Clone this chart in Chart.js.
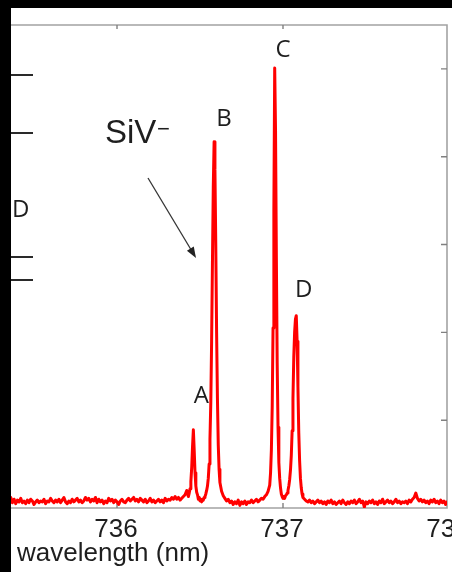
<!DOCTYPE html>
<html>
<head>
<meta charset="utf-8">
<script src="https://cdn.jsdelivr.net/npm/chart.js@4.4.1/dist/chart.umd.min.js"></script>
<style>
html, body { margin: 0; padding: 0; background: #000; }
#spectrum { display: block; }
</style>
</head>
<body>
<canvas id="spectrum" width="452" height="572"></canvas>
<script>
// wavelength (nm) of each sample, finer steps around the four lines
var wavelength = [
	735.36, 735.37, 735.38, 735.39, 735.40, 735.41, 735.42, 735.43, 735.44, 735.45,
	735.46, 735.47, 735.48, 735.49, 735.50, 735.51, 735.52, 735.53, 735.54, 735.55,
	735.56, 735.57, 735.58, 735.59, 735.60, 735.61, 735.62, 735.63, 735.64, 735.65,
	735.66, 735.67, 735.68, 735.69, 735.70, 735.71, 735.72, 735.73, 735.74, 735.75,
	735.76, 735.77, 735.78, 735.79, 735.80, 735.81, 735.82, 735.83, 735.84, 735.85,
	735.86, 735.87, 735.88, 735.89, 735.90, 735.91, 735.92, 735.93, 735.94, 735.95,
	735.96, 735.97, 735.98, 735.99, 736.00, 736.01, 736.02, 736.03, 736.04, 736.05,
	736.06, 736.07, 736.08, 736.09, 736.10, 736.11, 736.12, 736.13, 736.14, 736.15,
	736.16, 736.17, 736.18, 736.19, 736.20, 736.21, 736.22, 736.23, 736.24, 736.25,
	736.26, 736.27, 736.28, 736.29, 736.30, 736.31, 736.32, 736.33, 736.34, 736.35,
	736.36, 736.37, 736.38, 736.39, 736.40, 736.41, 736.42,
	736.430, 736.435, 736.440, 736.445, 736.450, 736.455, 736.460, 736.465, 736.470, 736.475,
	736.480, 736.485, 736.490, 736.495, 736.500, 736.505, 736.510, 736.515, 736.520, 736.525,
	736.530, 736.535, 736.540, 736.545, 736.550, 736.555, 736.560, 736.565, 736.570, 736.575,
	736.580, 736.585, 736.590, 736.595, 736.600, 736.605, 736.610, 736.615, 736.620,
	736.63, 736.64, 736.65, 736.66, 736.67, 736.68, 736.69, 736.70, 736.71, 736.72,
	736.73, 736.74, 736.75, 736.76, 736.77, 736.78, 736.79, 736.80, 736.81, 736.82,
	736.83, 736.84, 736.85, 736.86, 736.87, 736.88, 736.89, 736.90, 736.91,
	736.920, 736.925, 736.930, 736.935, 736.940, 736.945, 736.950, 736.955, 736.960, 736.965,
	736.970, 736.975, 736.980, 736.985, 736.990, 736.995, 737.000, 737.005, 737.010, 737.015,
	737.020, 737.025, 737.030, 737.035, 737.040, 737.045, 737.050, 737.055, 737.060, 737.065,
	737.070, 737.075, 737.080, 737.085, 737.090, 737.095, 737.100, 737.105, 737.110, 737.115,
	737.120,
	737.13, 737.14, 737.15, 737.16, 737.17, 737.18, 737.19, 737.20, 737.21, 737.22,
	737.23, 737.24, 737.25, 737.26, 737.27, 737.28, 737.29, 737.30, 737.31, 737.32,
	737.33, 737.34, 737.35, 737.36, 737.37, 737.38, 737.39, 737.40, 737.41, 737.42,
	737.43, 737.44, 737.45, 737.46, 737.47, 737.48, 737.49, 737.50, 737.51, 737.52,
	737.53, 737.54, 737.55, 737.56, 737.57, 737.58, 737.59, 737.60, 737.61, 737.62,
	737.63, 737.64, 737.65, 737.66, 737.67, 737.68, 737.69, 737.70, 737.71, 737.72,
	737.73, 737.74, 737.75, 737.76, 737.77, 737.78, 737.79, 737.80, 737.81, 737.82,
	737.83, 737.84, 737.85, 737.86, 737.87, 737.88, 737.89, 737.90, 737.91, 737.92,
	737.93, 737.94, 737.95, 737.96, 737.97, 737.98, 737.99
];

// PL intensity (arb. units, one unit per right-hand tick)
var intensity = [
	0.12, 0.06, 0.10, 0.05, 0.09, 0.07, 0.11, 0.06, 0.08, 0.05,
	0.09, 0.06, 0.10, 0.08, 0.04, 0.07, 0.09, 0.06, 0.08, 0.07,
	0.10, 0.05, 0.08, 0.07, 0.11, 0.08, 0.06, 0.09, 0.07, 0.10,
	0.06, 0.09, 0.12, 0.07, 0.05, 0.08, 0.06, 0.10, 0.07, 0.09,
	0.11, 0.07, 0.09, 0.06, 0.08, 0.12, 0.09, 0.11, 0.07, 0.10,
	0.08, 0.12, 0.06, 0.10, 0.07, 0.09, 0.05, 0.08, 0.06, 0.11,
	0.08, 0.10, 0.06, 0.09, 0.07, 0.04, 0.08, 0.10, 0.07, 0.06,
	0.09, 0.11, 0.08, 0.10, 0.12, 0.08, 0.10, 0.07, 0.11, 0.09,
	0.07, 0.10, 0.06, 0.08, 0.11, 0.07, 0.09, 0.06, 0.08, 0.10,
	0.07, 0.09, 0.06, 0.11, 0.08, 0.10, 0.09, 0.12, 0.10, 0.13,
	0.10, 0.12, 0.09, 0.11, 0.13, 0.15, 0.20,
	0.13, 0.17, 0.22, 0.30, 0.46, 0.70, 0.89, 0.66, 0.40, 0.25,
	0.18, 0.15, 0.10, 0.12, 0.08, 0.10, 0.07, 0.10, 0.09, 0.12,
	0.13, 0.16, 0.20, 0.25, 0.34, 0.50, 0.78, 1.20, 1.90, 2.80,
	3.65, 4.17, 3.85, 3.00, 2.00, 1.25, 0.72, 0.44, 0.29,
	0.19, 0.14, 0.11, 0.08, 0.10, 0.06, 0.08, 0.04, 0.07, 0.05,
	0.09, 0.03, 0.07, 0.05, 0.08, 0.04, 0.07, 0.06, 0.09, 0.06,
	0.08, 0.10, 0.07, 0.09, 0.11, 0.10, 0.13, 0.15, 0.19,
	0.26, 0.40, 0.66, 1.15, 2.05, 3.40, 5.01, 4.30, 2.85, 1.65,
	0.92, 0.52, 0.34, 0.23, 0.16, 0.13, 0.11, 0.13, 0.11, 0.14,
	0.15, 0.17, 0.20, 0.25, 0.32, 0.43, 0.60, 0.88, 1.25, 1.72,
	2.00, 2.15, 2.19, 1.90, 1.38, 0.86, 0.54, 0.34, 0.23, 0.16,
	0.12,
	0.10, 0.08, 0.07, 0.09, 0.06, 0.08, 0.05, 0.07, 0.09, 0.06,
	0.08, 0.05, 0.07, 0.04, 0.08, 0.06, 0.09, 0.05, 0.07, 0.04,
	0.06, 0.08, 0.05, 0.09, 0.06, 0.04, 0.07, 0.05, 0.08, 0.06,
	0.09, 0.05, 0.07, 0.10, 0.06, 0.08, 0.01, 0.07, 0.05, 0.08,
	0.06, 0.09, 0.05, 0.07, 0.04, 0.08, 0.06, 0.10, 0.05, 0.07,
	0.09, 0.06, 0.08, 0.05, 0.07, 0.10, 0.06, 0.08, 0.05, 0.07,
	0.06, 0.08, 0.05, 0.09, 0.07, 0.10, 0.12, 0.17, 0.11, 0.08,
	0.10, 0.07, 0.09, 0.06, 0.08, 0.05, 0.09, 0.07, 0.10, 0.06,
	0.08, 0.05, 0.09, 0.06, 0.08, 0.04, 0.07
];

var x_ticks = [736, 737, 738];
var y_ticks = [1, 2, 3, 4, 5];
var peak_names = ['A', 'B', 'C', 'D'];
var x_title = 'wavelength (nm)';

var points = [];
for (var i = 0; i < wavelength.length; i++) {
	points.push({x: wavelength[i], y: intensity[i]});
}

var label_font = '24px "Open Sans", "Noto Sans", sans-serif';
var axis_font = '26px "Liberation Sans", Arial, sans-serif';

var frame_plugin = {
	id: 'frame',
	beforeDraw: function(chart) {
		var ctx = chart.ctx;
		ctx.save();
		ctx.fillStyle = '#ffffff';
		ctx.fillRect(0, 0, chart.width, chart.height);
		ctx.restore();
	},
	beforeDatasetsDraw: function(chart) {
		var ctx = chart.ctx;
		var a = chart.chartArea;
		var xs = chart.scales.x;
		var ys = chart.scales.y;
		ctx.save();
		ctx.strokeStyle = '#a3a3a3';
		ctx.lineWidth = 1.6;
		ctx.beginPath();
		ctx.moveTo(a.left - 12, a.top);
		ctx.lineTo(a.right, a.top);
		ctx.lineTo(a.right, a.bottom);
		ctx.lineTo(a.left - 12, a.bottom);
		ctx.stroke();

		// inward ticks
		ctx.strokeStyle = '#808080';
		ctx.lineWidth = 1.4;
		ctx.beginPath();
		for (var t of x_ticks) {
			var px = xs.getPixelForValue(t);
			if (px > a.right - 2) {
				continue;
			}
			ctx.moveTo(px, a.top);
			ctx.lineTo(px, a.top + 4);
			ctx.moveTo(px, a.bottom);
			ctx.lineTo(px, a.bottom - 5);
		}
		for (var t of y_ticks) {
			var py = ys.getPixelForValue(t);
			ctx.moveTo(a.right, py);
			ctx.lineTo(a.right - 6, py);
		}
		ctx.stroke();
		ctx.restore();
	},
	afterDraw: function(chart) {
		var ctx = chart.ctx;
		var a = chart.chartArea;
		var xs = chart.scales.x;
		var ys = chart.scales.y;
		ctx.save();

		// tick labels and axis title
		ctx.fillStyle = '#1e1e1e';
		ctx.font = axis_font;
		ctx.textAlign = 'center';
		ctx.textBaseline = 'alphabetic';
		for (var t of x_ticks) {
			ctx.fillText(String(t), xs.getPixelForValue(t) - 1, 537);
		}
		ctx.textAlign = 'left';
		ctx.fillText(x_title, 17, 561);

		// peak letters, anchored in data units
		var anchors = [[736.508, 1.30], [736.645, 4.45], [737.0, 5.24], [737.125, 2.50]];
		ctx.font = label_font;
		ctx.textAlign = 'center';
		for (var i = 0; i < peak_names.length; i++) {
			var lx = xs.getPixelForValue(anchors[i][0]);
			var ly = ys.getPixelForValue(anchors[i][1]);
			ctx.fillText(peak_names[i], lx, ly + 9);
		}

		// SiV- with arrow
		ctx.textAlign = 'left';
		ctx.font = '33px "Liberation Sans", Arial, sans-serif';
		ctx.fillText('SiV', 105, 143);
		ctx.font = '22px "Liberation Sans", Arial, sans-serif';
		ctx.fillText('\u2212', 157, 136);

		var x0 = 148, y0 = 178, x1 = 196, y1 = 258;
		var ang = Math.atan2(y1 - y0, x1 - x0);
		ctx.strokeStyle = '#333333';
		ctx.fillStyle = '#222222';
		ctx.lineWidth = 1.3;
		ctx.beginPath();
		ctx.moveTo(x0, y0);
		ctx.lineTo(x1 - 9 * Math.cos(ang), y1 - 9 * Math.sin(ang));
		ctx.stroke();
		ctx.beginPath();
		ctx.moveTo(x1, y1);
		ctx.lineTo(x1 - 11 * Math.cos(ang) + 4 * Math.sin(ang), y1 - 11 * Math.sin(ang) - 4 * Math.cos(ang));
		ctx.lineTo(x1 - 11 * Math.cos(ang) - 4 * Math.sin(ang), y1 - 11 * Math.sin(ang) + 4 * Math.cos(ang));
		ctx.closePath();
		ctx.fill();

		// bits of the neighbouring panel on the left
		ctx.strokeStyle = '#2a2a2a';
		ctx.lineWidth = 2;
		ctx.beginPath();
		for (var yy of [75, 133, 257, 280]) {
			ctx.moveTo(11, yy);
			ctx.lineTo(33, yy);
		}
		ctx.stroke();
		ctx.fillStyle = '#1e1e1e';
		ctx.font = label_font;
		ctx.fillText('D', 12, 217);

		// black margins of the crop
		ctx.fillStyle = '#000000';
		ctx.fillRect(0, 0, chart.width, 8);
		ctx.fillRect(0, 0, 11, chart.height);
		ctx.restore();
	}
};

new Chart(document.getElementById('spectrum'), {
	type: 'line',
	data: {
		datasets: [{
			data: points,
			borderColor: '#ff0000',
			borderWidth: 3,
			borderJoinStyle: 'round',
			borderCapStyle: 'round',
			pointRadius: 0,
			tension: 0,
			fill: false
		}]
	},
	options: {
		responsive: false,
		animation: false,
		devicePixelRatio: 1,
		layout: {
			padding: {left: 11, top: 25, right: 5, bottom: 64}
		},
		plugins: {
			legend: {display: false},
			tooltip: {enabled: false}
		},
		scales: {
			x: {type: 'linear', min: 735.3614, max: 737.988, display: false},
			y: {min: 0, max: 5.5, display: false}
		}
	},
	plugins: [frame_plugin]
});
</script>
</body>
</html>
